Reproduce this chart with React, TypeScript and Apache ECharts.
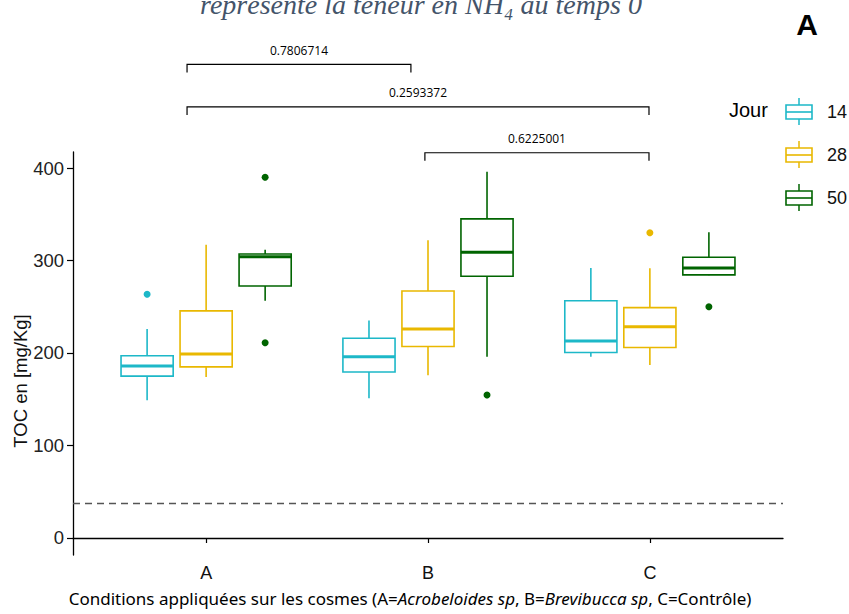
import React, { useEffect, useRef } from 'react';
import * as echarts from 'echarts';

const categories = ['A', 'B', 'C'];
const days = ['14', '28', '50'];
const dayColors = ['#1DB8C8', '#E9B800', '#006400'];
// [lower whisker, Q1, median, Q3, upper whisker] for A, B, C
const box14 = [[149, 175, 186, 197, 226], [151, 179.5, 196, 216, 235], [196, 200.5, 213, 256.5, 292]];
const box28 = [[174, 185, 199, 245.5, 317], [176, 207, 226, 267, 322], [187, 206, 228.5, 249, 291.5]];
const box50 = [[256.5, 272.5, 304, 307, 311.5], [196, 283, 309, 345, 396], [284, 284.5, 292, 303.5, 330.5]];
// [category index, value]
const outliers14 = [[1, 263.5]];
const outliers28 = [[3, 330]];
const outliers50 = [[1, 390], [1, 211], [2, 154.5], [3, 250]];
const pValues = ['0.7806714', '0.2593372', '0.6225001'];
const bracketStart = [0.914, 0.914, 1.986];
const bracketEnd = [1.923, 2.996, 2.996];
const bracketLevel = [512, 466, 416.5];
const referenceLevel = 37.8;
const yTicks = [0, 100, 200, 300, 400];

const boxData = [box14, box28, box50];
const outlierData = [outliers14, outliers28, outliers50];
const dodge = [-0.266, 0, 0.266];
const boxWidth = 0.235;

export default function App() {
  const ref = useRef<HTMLDivElement>(null);
  useEffect(() => {
    if (!ref.current) return;
    const chart = echarts.init(ref.current, null, { renderer: 'svg' });

    const boxSeries = days.map((d, i) => ({
      type: 'custom',
      name: d,
      clip: false,
      data: boxData[i].map((b, k) => [k + 1, ...b]),
      encode: { x: 0, y: [1, 2, 3, 4, 5] },
      renderItem: (params: any, api: any) => {
        const x = api.value(0) + dodge[i];
        const color = dayColors[i];
        const pL = api.coord([x, api.value(1)]);
        const p1 = api.coord([x, api.value(2)]);
        const pM = api.coord([x, api.value(3)]);
        const p3 = api.coord([x, api.value(4)]);
        const pH = api.coord([x, api.value(5)]);
        const hw = api.size([boxWidth, 0])[0] / 2;
        const cx = pM[0];
        return {
          type: 'group',
          children: [
            { type: 'line', shape: { x1: cx, y1: pL[1], x2: cx, y2: p1[1] }, style: { stroke: color, lineWidth: 1.6 } },
            { type: 'line', shape: { x1: cx, y1: p3[1], x2: cx, y2: pH[1] }, style: { stroke: color, lineWidth: 1.6 } },
            { type: 'rect', shape: { x: cx - hw, y: p3[1], width: 2 * hw, height: p1[1] - p3[1] }, style: { fill: '#fff', stroke: color, lineWidth: 1.6 } },
            { type: 'line', shape: { x1: cx - hw, y1: pM[1], x2: cx + hw, y2: pM[1] }, style: { stroke: color, lineWidth: 3 } },
          ],
        };
      },
    }));

    const outlierSeries = days.map((d, i) => ({
      type: 'scatter',
      name: d + ' outliers',
      data: outlierData[i].map(([c, v]) => [c + dodge[i], v]),
      symbolSize: 7,
      itemStyle: { color: dayColors[i], opacity: 1 },
      z: 3,
      ...(i === 0
        ? {
            markLine: {
              silent: true,
              symbol: 'none',
              label: { show: false },
              lineStyle: { color: '#555', type: [7, 5], width: 1.4 },
              data: [{ yAxis: referenceLevel }],
            },
          }
        : {}),
    }));

    const bracketSeries = {
      type: 'custom',
      clip: false,
      data: pValues.map((p, k) => [bracketStart[k], bracketEnd[k], bracketLevel[k]]),
      encode: { x: [0, 1], y: 2 },
      renderItem: (params: any, api: any) => {
        const a = api.coord([api.value(0), api.value(2)]);
        const b = api.coord([api.value(1), api.value(2)]);
        return {
          type: 'group',
          children: [
            {
              type: 'polyline',
              shape: { points: [[a[0], a[1] + 8], [a[0], a[1]], [b[0], b[1]], [b[0], b[1] + 8]] },
              style: { stroke: '#000', lineWidth: 1.2, fill: 'none' },
            },
            {
              type: 'text',
              x: (a[0] + b[0]) / 2,
              y: a[1] - 14,
              style: {
                text: pValues[params.dataIndex],
                textAlign: 'center',
                textVerticalAlign: 'middle',
                fontSize: 12,
                fontFamily: '"Open Sans", sans-serif',
                fill: '#000',
              },
            },
          ],
        };
      },
    };

    const legendChildren: any[] = [
      {
        type: 'text',
        x: 729,
        y: 110,
        style: { text: 'Jour', fontSize: 20, fontFamily: '"Liberation Sans", Arial, sans-serif', fill: '#000', textVerticalAlign: 'middle' },
      },
    ];
    days.forEach((d, i) => {
      const cy = 112 + 43 * i;
      const c = dayColors[i];
      legendChildren.push(
        { type: 'line', shape: { x1: 799, y1: cy - 14, x2: 799, y2: cy - 7 }, style: { stroke: c, lineWidth: 1.5 } },
        { type: 'line', shape: { x1: 799, y1: cy + 7, x2: 799, y2: cy + 13 }, style: { stroke: c, lineWidth: 1.5 } },
        { type: 'rect', shape: { x: 786, y: cy - 7, width: 26, height: 14 }, style: { fill: '#fff', stroke: c, lineWidth: 1.6 } },
        { type: 'line', shape: { x1: 786, y1: cy, x2: 812, y2: cy }, style: { stroke: c, lineWidth: 1.6 } },
        {
          type: 'text',
          x: 827,
          y: cy,
          style: { text: d, fontSize: 18, fontFamily: '"Liberation Sans", Arial, sans-serif', fill: '#111', textVerticalAlign: 'middle' },
        }
      );
    });

    chart.setOption({
      animation: false,
      backgroundColor: '#fff',
      grid: { left: 73, right: 66, top: 152, bottom: 59 },
      xAxis: {
        type: 'value',
        min: 0.4,
        max: 3.6,
        splitLine: { show: false },
        axisLine: { show: true, lineStyle: { color: '#000', width: 1.3 } },
        axisTick: { show: true, customValues: [1, 2, 3], length: 5, lineStyle: { color: '#000', width: 1.2 } },
        axisLabel: {
          customValues: [1, 2, 3],
          formatter: (v: number) => categories[Math.round(v) - 1] ?? '',
          fontSize: 18,
          color: '#111',
          margin: 9,
          fontFamily: '"Liberation Sans Narrow", "Liberation Sans", Arial, sans-serif',
        },
      },
      yAxis: {
        type: 'value',
        min: -18.4,
        max: 417.3,
        splitLine: { show: false },
        axisLine: { show: true, lineStyle: { color: '#000', width: 1.3 } },
        axisTick: { show: true, customValues: yTicks, length: 6, lineStyle: { color: '#000', width: 1.2 } },
        axisLabel: {
          customValues: yTicks,
          fontSize: 18.5,
          color: '#222',
          margin: 9,
          fontFamily: '"Liberation Sans", Arial, sans-serif',
        },
      },
      graphic: [
        {
          type: 'text',
          x: 421,
          y: 4,
          style: {
            text: 'représente la teneur en NH₄ au temps 0',
            fontSize: 28,
            fontStyle: 'italic',
            fontFamily: '"Liberation Serif", "DejaVu Serif", serif',
            fill: '#44546A',
            textAlign: 'center',
            textVerticalAlign: 'middle',
          },
        },
        {
          type: 'text',
          x: 807,
          y: 24,
          style: {
            text: 'A',
            fontSize: 30,
            fontWeight: 'bold',
            fontFamily: '"Liberation Sans", Arial, sans-serif',
            fill: '#000',
            textAlign: 'center',
            textVerticalAlign: 'middle',
          },
        },
        {
          type: 'text',
          x: 20,
          y: 381,
          rotation: Math.PI / 2,
          style: {
            text: 'TOC en [mg/Kg]',
            fontSize: 18.5,
            fontFamily: '"Liberation Sans", Arial, sans-serif',
            fill: '#111',
            textAlign: 'center',
            textVerticalAlign: 'middle',
          },
        },
        {
          type: 'text',
          x: 410,
          y: 598,
          style: {
            text: 'Conditions appliquées sur les cosmes (A={i|Acrobeloides sp}, B={i|Brevibucca sp}, C=Contrôle)',
            fontSize: 17,
            fontFamily: '"Noto Sans", sans-serif',
            fill: '#000',
            textAlign: 'center',
            textVerticalAlign: 'middle',
            rich: {
              i: { fontSize: 17, fontStyle: 'italic', fontFamily: '"Noto Sans", sans-serif', fill: '#000' },
            },
          },
        },
        { type: 'group', children: legendChildren },
      ],
      series: [...boxSeries, ...outlierSeries, bracketSeries],
    });
    return () => chart.dispose();
  }, []);
  return <div ref={ref} style={{ width: 849, height: 614, position: 'absolute', left: 0, top: 0 }} />;
}
